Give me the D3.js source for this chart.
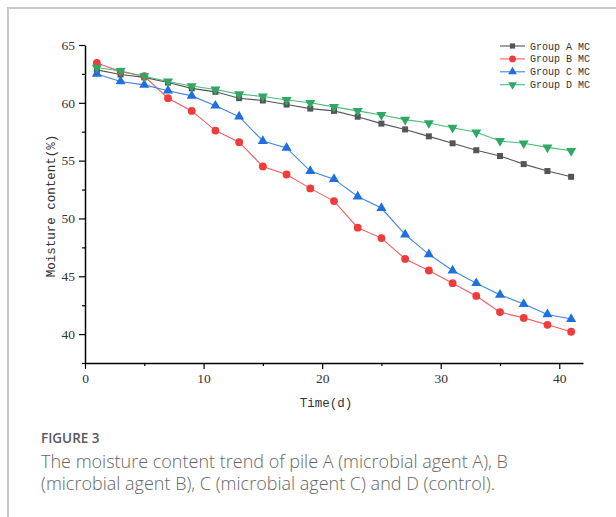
<!DOCTYPE html>
<html><head><meta charset="utf-8">
<script src="https://cdn.jsdelivr.net/npm/d3@7"></script>
<style>
html,body{margin:0;padding:0;background:#fff;}
svg{display:block;}
</style></head>
<body>
<svg id="chart" width="616" height="517"></svg>
<script>
const days = [1,3,5,7,9,11,13,15,17,19,21,23,25,27,29,31,33,35,37,39,41];
const groupA = [62.85,62.45,62.2,61.75,61.25,60.95,60.4,60.2,59.85,59.5,59.3,58.8,58.2,57.7,57.1,56.5,55.9,55.4,54.7,54.1,53.6];
const groupB = [63.45,62.7,62.3,60.4,59.3,57.6,56.6,54.5,53.8,52.6,51.5,49.2,48.3,46.5,45.5,44.4,43.3,41.9,41.4,40.8,40.2];
const groupC = [62.5,61.85,61.55,61.05,60.6,59.75,58.8,56.7,56.1,54.1,53.4,51.9,50.9,48.6,46.9,45.5,44.4,43.4,42.6,41.7,41.3];
const groupD = [63.05,62.75,62.3,61.85,61.45,61.15,60.75,60.55,60.25,60.0,59.65,59.3,58.95,58.55,58.25,57.85,57.45,56.7,56.5,56.15,55.85];
const seriesNames = ["Group A MC","Group B MC","Group C MC","Group D MC"];
const xTicks = [0,10,20,30,40];
const yTicks = [40,45,50,55,60,65];
const captionTitle = "FIGURE 3";
const captionLines = ["The moisture content trend of pile A (microbial agent A), B","(microbial agent B), C (microbial agent C) and D (control)."];

const svg = d3.select("#chart");
const L = 85, R = 583, T = 45, B = 363;
const x = d3.scaleLinear().domain([0,42]).range([L,R]);
const y = d3.scaleLinear().domain([37.5,65]).range([B,T]);

// frame
svg.append("path").attr("d","M8,517 V8 H616").attr("fill","none").attr("stroke","#c8c8c8").attr("stroke-width",2);

const mono = "'Liberation Mono', 'DejaVu Sans Mono', monospace";
const serif = "'Liberation Serif', 'DejaVu Serif', serif";

// axes
svg.append("g").attr("transform",`translate(0,${B})`)
  .call(d3.axisBottom(x).tickValues(xTicks).tickSize(6).tickSizeOuter(0).tickPadding(4));
svg.append("g").attr("transform",`translate(0,${B})`)
  .call(d3.axisBottom(x).tickValues([5,15,25,35]).tickSize(3).tickFormat("").tickSizeOuter(0))
  .select(".domain").remove();
svg.append("g").attr("transform",`translate(${L},0)`)
  .call(d3.axisLeft(y).tickValues(yTicks).tickSize(6).tickSizeOuter(0).tickPadding(4));
svg.append("g").attr("transform",`translate(${L},0)`)
  .call(d3.axisLeft(y).tickValues([37.5,42.5,47.5,52.5,57.5,62.5]).tickSize(3).tickFormat("").tickSizeOuter(0))
  .select(".domain").remove();
svg.selectAll(".domain").attr("stroke","#000").attr("stroke-width",1.5);
svg.selectAll(".tick line").attr("stroke","#000").attr("stroke-width",1.2);
svg.selectAll(".tick text").style("font-family",serif).style("font-size","13.5px").attr("fill","#333");

svg.append("text").attr("x",326).attr("y",407).attr("text-anchor","middle")
  .style("font-family",mono).style("font-size","12.5px").attr("fill","#333").text("Time(d)");
svg.append("text").attr("transform",`translate(55,${(T+B)/2+2}) rotate(-90)`).attr("text-anchor","middle")
  .style("font-family",mono).style("font-size","12.5px").attr("fill","#333").text("Moisture content(%)");

const series = [
  {name:seriesNames[0], vals:groupA, color:"#555555", line:"#555555", sym:d3.symbolSquare, size:36, rot:0},
  {name:seriesNames[1], vals:groupB, color:"#ee3b3b", line:"#f06060", sym:d3.symbolCircle, size:48, rot:0},
  {name:seriesNames[2], vals:groupC, color:"#1e6fe0", line:"#3f85e8", sym:d3.symbolTriangle, size:44, rot:0},
  {name:seriesNames[3], vals:groupD, color:"#2ea864", line:"#4cba7a", sym:d3.symbolTriangle, size:44, rot:180}
];

const line = d3.line().x(d=>x(d[0])).y(d=>y(d[1]));
series.forEach(s=>{
  const pts = days.map((d,i)=>[d,s.vals[i]]);
  const g = svg.append("g");
  g.append("path").datum(pts).attr("d",line).attr("fill","none").attr("stroke",s.line).attr("stroke-width",1.1);
  g.selectAll("path.m").data(pts).join("path").attr("class","m")
    .attr("d",d3.symbol().type(s.sym).size(s.size))
    .attr("transform",d=>`translate(${x(d[0])},${y(d[1])}) rotate(${s.rot})`)
    .attr("fill",s.color);
});

// legend
const lg = svg.append("g");
series.forEach((s,i)=>{
  const yy = 46 + i*12.9;
  lg.append("line").attr("x1",500).attr("x2",525).attr("y1",yy).attr("y2",yy).attr("stroke",s.line).attr("stroke-width",1.1);
  lg.append("path").attr("d",d3.symbol().type(s.sym).size(s.size*0.75))
    .attr("transform",`translate(512.5,${yy}) rotate(${s.rot})`).attr("fill",s.color);
  lg.append("text").attr("x",530).attr("y",yy+3.5).style("font-family",mono).style("font-size","10px").attr("fill","#333").text(s.name);
});

// caption
svg.append("text").attr("x",41).attr("y",443).style("font-family","'Open Sans', Lato, sans-serif").style("font-size","13.5px")
  .style("font-weight",600).attr("fill","#5a5a5a").text(captionTitle);
captionLines.forEach((t,i)=>{
  svg.append("text").attr("x",41).attr("y",468+i*22).style("font-family","'Open Sans', Lato, sans-serif").style("font-size","18px")
    .style("font-weight",300).attr("fill","#666").text(t);
});
</script>
</body></html>
